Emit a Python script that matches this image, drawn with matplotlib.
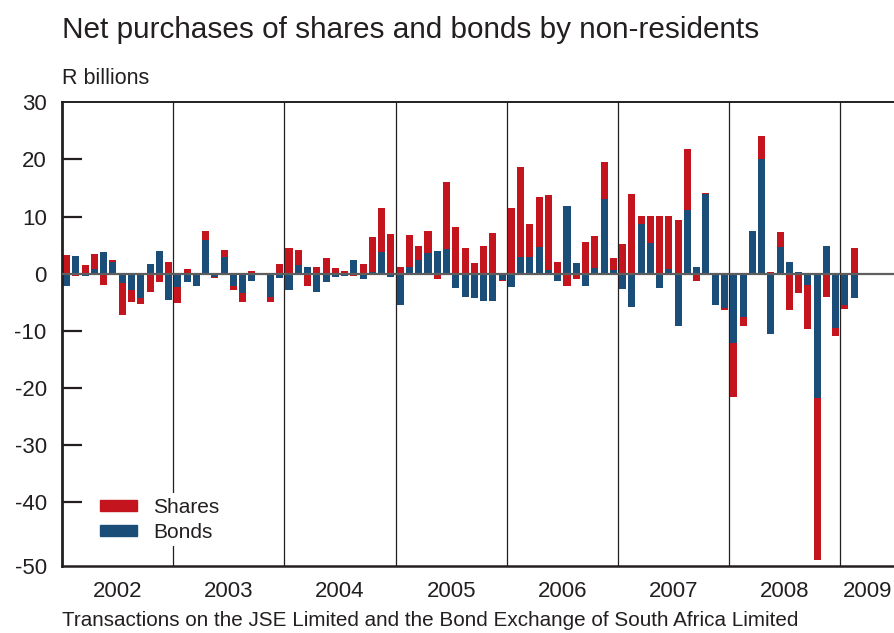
import numpy as np
import matplotlib
matplotlib.use("Agg")
import matplotlib.pyplot as plt
from matplotlib.patches import Patch

RED = "#C4141D"
BLUE = "#1A4E78"
INK = "#231F20"
ZERO = "#5E5E5E"

years = ["2002", "2003", "2004", "2005", "2006", "2007", "2008", "2009"]

# Monthly net purchases, R billions (Jan 2002 - Feb 2009)
shares = [
    3.3, -0.4, 1.5, 2.6, -2.0, 0.35, -5.6, -2.1, -1.1, -3.2, -1.5, 2.0,
    -2.7, 0.8, 0.1, 1.6, -0.2, 1.3, -0.8, -1.6, 0.5, 0.2, -0.9, 1.7,
    4.5, 2.6, -2.2, 1.2, 2.7, 1.0, 0.5, -0.4, 1.7, 6.1, 7.7, 7.0,
    1.2, 5.6, 2.5, 3.9, -0.9, 11.8, 8.2, 4.5, 1.9, 4.9, 7.1, -0.2,
    11.5, 15.8, 5.8, 8.8, 13.2, 2.0, -2.2, -0.9, 5.6, 5.6, 6.6, 2.1,
    5.2, 14.0, 1.4, 4.8, 10.1, 9.3, 9.4, 10.6, -1.3, 0.2, 0.0, -0.35,
    -9.4, -1.7, 0.1, 4.0, 0.3, 2.7, -6.3, -3.4, -7.7, -28.4, -4.0, -1.4,
    -0.7, 4.5,
]
bonds = [
    -2.2, 3.1, -0.4, 0.8, 3.8, 2.0, -1.7, -2.9, -4.2, 1.7, 4.0, -4.6,
    -2.4, -1.5, -2.2, 5.9, -0.6, 2.9, -2.1, -3.4, -1.3, -0.1, -4.1, -0.8,
    -2.9, 1.5, 1.2, -3.2, -1.5, -0.6, -0.4, 2.4, -0.9, 0.3, 3.8, -0.6,
    -5.5, 1.2, 2.4, 3.6, 4.0, 4.3, -2.5, -4.1, -4.3, -4.8, -4.8, -1.1,
    -2.3, 2.9, 2.9, 4.7, 0.6, -1.3, 11.9, 1.9, -2.2, 1.0, 13.0, 0.6,
    -2.7, -5.8, 8.7, 5.3, -2.5, 0.8, -9.2, 11.2, 1.2, 14.0, -5.5, -6.0,
    -12.1, -7.5, 7.4, 20.1, -10.5, 4.6, 2.0, 0.3, -1.9, -21.7, 4.9, -9.5,
    -5.4, -4.2,
]

Y_BOTTOM = -51.1
X_RIGHT = 89.9

plt.rcParams["font.family"] = ["Liberation Sans", "DejaVu Sans"]
plt.rcParams["text.color"] = INK

s = np.array(shares)
b = np.array(bonds)
x = np.arange(len(s)) + 0.5
# shares stack on bonds when both have the same sign
share_bottom = np.where(np.sign(s) == np.sign(b), b, 0.0)

fig = plt.figure(figsize=(8.95, 6.33), dpi=100)
ax = fig.add_axes([62 / 895, 67.3 / 633, 1 - 62 / 895, (565.7 - 102.3) / 633])

ax.bar(x, b, width=0.76, color=BLUE, zorder=2, label="Bonds")
ax.bar(x, s, width=0.76, bottom=share_bottom, color=RED, zorder=2, label="Shares")

for k in range(1, len(years)):
    ax.axvline(12 * k, color=INK, lw=0.9, zorder=1)
ax.axhline(0, color=ZERO, lw=1.6, zorder=3)

ax.set_xlim(0, X_RIGHT)
ax.set_ylim(Y_BOTTOM, 30)

yt = [30, 20, 10, 0, -10, -20, -30, -40, Y_BOTTOM]
ax.set_yticks(yt)
ax.set_yticklabels(["30", "20", "10", "0", "-10", "-20", "-30", "-40", "-50"])
ax.tick_params(axis="y", direction="in", length=14.5, width=1.6, color=INK,
               pad=11, labelsize=16, labelcolor=INK)
for t, v in zip(ax.yaxis.get_major_ticks(), yt):
    if v in (30, 0, Y_BOTTOM):
        t.tick1line.set_visible(False)

xt = [6 + 12 * k for k in range(len(years) - 1)] + [86.9]
ax.set_xticks(xt)
ax.set_xticklabels(years)
ax.tick_params(axis="x", length=0, pad=11, labelsize=16, labelcolor=INK)

for side in ("left", "top", "bottom"):
    ax.spines[side].set_color(INK)
ax.spines["left"].set_linewidth(2.0)
ax.spines["top"].set_linewidth(1.4)
ax.spines["bottom"].set_linewidth(1.8)
ax.spines["right"].set_visible(False)

handles = [Patch(color=RED, label="Shares"), Patch(color=BLUE, label="Bonds")]
leg = ax.legend(handles=handles, loc="lower left", bbox_to_anchor=(0.028, 0.02),
                frameon=True, facecolor="white", edgecolor="none", framealpha=1,
                fontsize=15, handlelength=1.8, handleheight=0.45,
                handletextpad=0.75, labelspacing=0.3, borderpad=0.2)
leg.set_zorder(5)

fig.text(62 / 895, 1 - 30 / 633, "Net purchases of shares and bonds by non-residents",
         fontsize=21.4, va="center", ha="left")
fig.text(62 / 895, 1 - 78 / 633, "R billions", fontsize=15.5, va="center", ha="left")
fig.text(62 / 895, 1 - 621 / 633,
         "Transactions on the JSE Limited and the Bond Exchange of South Africa Limited",
         fontsize=14.9, va="center", ha="left")

fig.savefig("out.png", dpi=100, facecolor="white")
